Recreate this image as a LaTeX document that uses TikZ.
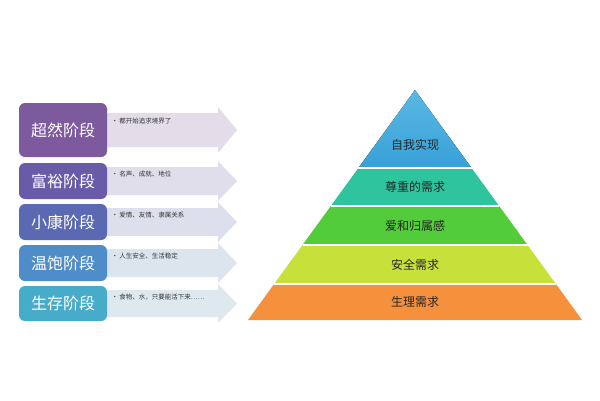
\documentclass[tikz,border=0pt]{standalone}
\usepackage{fontspec}
\setmainfont{Noto Sans CJK SC}
\begin{document}
\begin{tikzpicture}[x=1pt,y=-1pt,
  stage/.style={text=white,font=\fontsize{16}{16}\selectfont,anchor=center},
  note/.style={font=\fontsize{6.5}{7}\selectfont,text=black!80,anchor=north west},
  lvl/.style={font=\fontsize{12}{12}\selectfont,text=black!85},
  sep/.style={white,line width=1.2pt}]
\useasboundingbox (0,0) rectangle (600,400);
\definecolor{c1}{HTML}{7D5A9E}\definecolor{c2}{HTML}{6A5BA8}\definecolor{c3}{HTML}{5A69B2}
\definecolor{c4}{HTML}{4E8DC9}\definecolor{c5}{HTML}{47ACC9}
\definecolor{a1}{HTML}{E2DDE8}\definecolor{a2}{HTML}{E0DEEA}\definecolor{a3}{HTML}{DEDFEC}
\definecolor{a4}{HTML}{DCE4EE}\definecolor{a5}{HTML}{DDE9EE}
% arrows
\foreach \t/\b/\c/\i/\w in {103/157/a1/10/4,163/199/a2/4/-2,204/240/a3/4/-2,245/281/a4/4/-2,286/321/a5/4/-2}{
  \pgfmathsetmacro\m{(\t+\b)/2}
  \fill[\c] (100,\t+\i) -- (218,\t+\i) -- (218,\t+\w) -- (237,\m) -- (218,\b-\w) -- (218,\b-\i) -- (100,\b-\i) -- cycle;
}
% stage boxes
\fill[c1,rounded corners=6pt] (19,103) rectangle (107,157);
\fill[c2,rounded corners=6pt] (19,163) rectangle (107,199);
\fill[c3,rounded corners=6pt] (19,204) rectangle (107,240);
\fill[c4,rounded corners=6pt] (19,245) rectangle (107,281);
\fill[c5,rounded corners=6pt] (19,286) rectangle (107,321);
\node[stage] (s1) at (63,130) {超然阶段};
\node[stage] (s2) at (63,181) {富裕阶段};
\node[stage] (s3) at (63,222) {小康阶段};
\node[stage] (s4) at (63,263) {温饱阶段};
\node[stage] (s5) at (63,303.5) {生存阶段};
\node[note] (n1) at (108,114) {• 都开始追求境界了};
\node[note] (n2) at (108,167) {• 名声、成就、地位};
\node[note] (n3) at (108,208) {• 爱情、友情、隶属关系};
\node[note] (n4) at (108,249) {• 人生安全、生活稳定};
\node[note] (n5) at (108,290) {• 食物、水，只要能活下来……};
% pyramid
\fill[top color={rgb,255:red,90;green,185;blue,228},bottom color={rgb,255:red,55;green,160;blue,215}] (415,90) -- (471.6,168) -- (358.4,168) -- cycle;
\fill[color={rgb,255:red,46;green,196;blue,158}] (358.4,168) -- (471.6,168) -- (499.2,206) -- (330.8,206) -- cycle;
\fill[color={rgb,255:red,82;green,204;blue,58}] (330.8,206) -- (499.2,206) -- (527.5,245) -- (302.5,245) -- cycle;
\fill[color={rgb,255:red,200;green,224;blue,58}] (302.5,245) -- (527.5,245) -- (555.9,284) -- (274.1,284) -- cycle;
\fill[color={rgb,255:red,245;green,145;blue,60}] (274.1,284) -- (555.9,284) -- (582,320) -- (248,320) -- cycle;
\foreach \y/\h in {168/56.6,206/84.2,245/112.5,284/140.9}{\draw[sep] (415-\h,\y) -- (415+\h,\y);}
\node[lvl] (p1) at (415,145) {自我实现};
\node[lvl] (p2) at (415,187) {尊重的需求};
\node[lvl] (p3) at (415,226) {爱和归属感};
\node[lvl] (p4) at (415,265) {安全需求};
\node[lvl] (p5) at (415,302) {生理需求};
\end{tikzpicture}
\end{document}
